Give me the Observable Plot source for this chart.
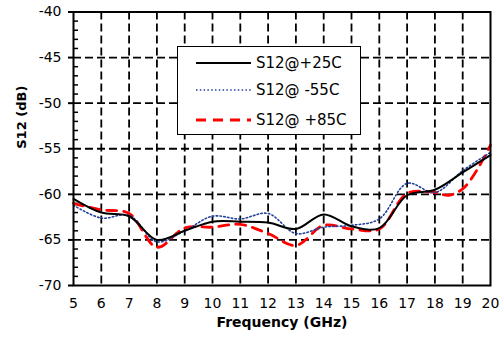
<!DOCTYPE html>
<html><head><meta charset="utf-8">
<script src="https://cdn.jsdelivr.net/npm/d3@7"></script>
<script src="https://cdn.jsdelivr.net/npm/@observablehq/plot@0.6"></script>
<style>
body{margin:0;background:#fff;}
#wrap{position:relative;width:500px;height:339px;font-family:"DejaVu Sans",sans-serif;}
#legend{position:absolute;left:177px;top:46px;width:182px;height:87px;border:1.6px solid #000;background:#fff;}
.row{position:absolute;left:0;height:20px;width:180px;}
.row svg{position:absolute;left:18px;top:0;}
.row span{position:absolute;left:78px;top:1px;font-size:15px;line-height:18px;color:#000;white-space:nowrap;}
</style></head><body><div id="wrap"></div>
<script>
// Frequency (GHz)
const freq = [5,6,7,8,9,10,11,12,13,14,15,16,17,18,19,20];
// S12 @ +25C (dB)
const s12_p25 = [-60.5,-62.0,-62.4,-65.0,-64.0,-63.0,-63.0,-63.1,-63.8,-62.2,-63.5,-63.7,-60.1,-59.5,-57.6,-55.7];
// S12 @ -55C (dB)
const s12_m55 = [-61.2,-62.6,-62.3,-65.2,-64.0,-62.4,-62.7,-62.1,-64.3,-63.6,-63.4,-62.7,-58.8,-59.8,-57.4,-55.4];
// S12 @ +85C (dB)
const freq85  = [5,6,7,8,9,10,11,12,13,14,15,16,17,18,18.5,19,19.5,20];
const s12_p85 = [-61.0,-61.7,-62.1,-65.8,-63.7,-63.6,-63.3,-64.3,-65.6,-63.4,-63.8,-63.8,-59.9,-59.8,-60.1,-59.4,-57.4,-54.6];

const seriesNames = ["S12@+25C","S12@ -55C","S12@ +85C"];
const xTicks = [5,6,7,8,9,10,11,12,13,14,15,16,17,18,19,20];
const yTicks = [-70,-65,-60,-55,-50,-45,-40];
const yMinor = d3.range(-69,-40).filter(v => v % 5 !== 0);

const W = 500, H = 339, mL = 73, mR = 10, mT = 11.5, mB = 54;
const innerW = W - mL - mR;

const d25 = freq.map((f,i)=>({f, v:s12_p25[i]}));
const d55 = freq.map((f,i)=>({f, v:s12_m55[i]}));
const d85 = freq85.map((f,i)=>({f, v:s12_p85[i]}));

const styles = [
  {stroke:"#000", strokeWidth:2, strokeDasharray:null},
  {stroke:"#23409a", strokeWidth:1.6, strokeDasharray:"1.5,2.3"},
  {stroke:"#ff0000", strokeWidth:2.8, strokeDasharray:"10,7"}
];

const dash = {stroke:"#000", strokeOpacity:1, strokeWidth:1.8, strokeDasharray:"8,4"};

const plot = Plot.plot({
  width: W, height: H,
  marginLeft: mL, marginRight: mR, marginTop: mT, marginBottom: mB,
  x: {domain:[5,20]},
  y: {domain:[-70,-40]},
  style: {fontFamily:"DejaVu Sans, sans-serif", fontSize:"14px", color:"#000", background:"#fff"},
  marks: [
    Plot.gridX(xTicks.slice(1,-1), dash),
    Plot.gridY(yTicks.slice(1,-1), dash),
    Plot.tickY(yMinor, {y:d=>d, stroke:"#000", strokeWidth:1.5, insetRight: innerW - 5}),
    Plot.axisX(xTicks, {tickSize:0, tickPadding:13, label:null, fontSize:14, tickFormat:d=>String(d)}),
    Plot.axisY(yTicks, {tickSize:5, tickPadding:7, label:null, fontSize:14, strokeWidth:2, tickFormat:d=>String(d)}),
    Plot.line(d85, {x:"f", y:"v", curve:"catmull-rom", ...styles[2]}),
    Plot.line(d55, {x:"f", y:"v", curve:"catmull-rom", ...styles[1]}),
    Plot.line(d25, {x:"f", y:"v", curve:"catmull-rom", ...styles[0]}),
    Plot.frame({stroke:"#000", strokeWidth:2}),
    Plot.text(["Frequency (GHz)"], {frameAnchor:"bottom", dy:41, fontWeight:"bold", fontSize:14}),
    Plot.text(["S12 (dB)"], {frameAnchor:"left", dx:-52, rotate:-90, fontWeight:"bold", fontSize:13})
  ]
});
const wrap = document.getElementById("wrap");
wrap.appendChild(plot);

// legend
const leg = document.createElement("div");
leg.id = "legend";
const rowTops = [6, 33, 63];
seriesNames.forEach((name,i)=>{
  const r = document.createElement("div");
  r.className = "row";
  r.style.top = rowTops[i] + "px";
  const st = styles[i];
  r.innerHTML = `<svg width="56" height="20"><line x1="0" y1="10" x2="55" y2="10" stroke="${st.stroke}" stroke-width="${st.strokeWidth}" ${st.strokeDasharray?`stroke-dasharray="${st.strokeDasharray}"`:""}/></svg><span>${name}</span>`;
  leg.appendChild(r);
});
wrap.appendChild(leg);
</script></body></html>
